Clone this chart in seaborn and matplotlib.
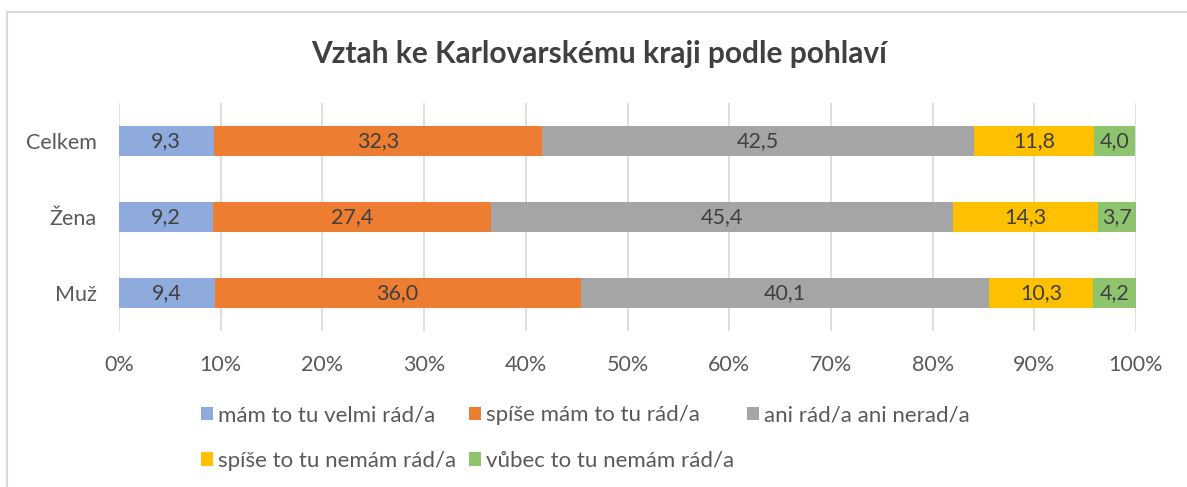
import matplotlib
matplotlib.use("Agg")
import matplotlib.pyplot as plt
from matplotlib.patches import Patch
from matplotlib.lines import Line2D
import numpy as np
import pandas as pd
import seaborn as sns

# data
groups = ["Celkem", "Žena", "Muž"]
answers = ["mám to tu velmi rád/a", "spíše mám to tu rád/a", "ani rád/a ani nerad/a",
           "spíše to tu nemám rád/a", "vůbec to tu nemám rád/a"]
velmi_rad = [9.3, 9.2, 9.4]
spise_rad = [32.3, 27.4, 36.0]
ani_ani = [42.5, 45.4, 40.1]
spise_nerad = [11.8, 14.3, 10.3]
vubec_nerad = [4.0, 3.7, 4.2]
colors = ["#8FAADC", "#ED7D31", "#A5A5A5", "#FFC000", "#8FC46E"]

sns.set_theme(style="white")
plt.rcParams["font.family"] = ["Lato", "DejaVu Sans"]

values = np.array([velmi_rad, spise_rad, ani_ani, spise_nerad, vubec_nerad])
cum = values.cumsum(axis=0)

fig = plt.figure(figsize=(11.87, 4.87), dpi=100)
ax = fig.add_axes([119 / 1187, 156 / 487, 1017 / 1187, 228 / 487])

# stacked bars: draw cumulative totals from the longest down
for i in range(len(answers) - 1, -1, -1):
    df = pd.DataFrame({"group": groups, "val": cum[i]})
    sns.barplot(data=df, x="val", y="group", orient="h", color=colors[i],
                width=0.4, ax=ax, saturation=1, zorder=3, linewidth=0)

# value labels in the middle of each segment
for i in range(len(answers)):
    for j, g in enumerate(groups):
        ax.text(cum[i][j] - values[i][j] / 2, j, f"{values[i][j]:.1f}".replace(".", ","),
                ha="center", va="center", fontsize=15.5, color="#404040", zorder=4)

ax.set_xlim(0, 100)
ax.set_ylim(2.5, -0.5)
ax.set_xticks(np.arange(0, 101, 10))
ax.set_xticklabels([f"{t}%" for t in range(0, 101, 10)])
ax.xaxis.grid(True, color="#D9D9D9", linewidth=1.2, zorder=0)
ax.set_axisbelow(True)
ax.set_xlabel("")
ax.set_ylabel("")
ax.tick_params(axis="both", length=0, labelsize=15.5, labelcolor="#595959")
ax.tick_params(axis="x", pad=17)
ax.tick_params(axis="y", pad=16)
for s in ax.spines.values():
    s.set_visible(False)

fig.text(0.505, 0.89, "Vztah ke Karlovarskému kraji podle pohlaví", ha="center", va="center",
         fontsize=21.5, fontweight="bold", color="#404040")

# legend: 3 items on the first row, 2 on the second (matplotlib fills by column)
handles = [Patch(facecolor=c, edgecolor="none") for c in colors]
order = [0, 3, 1, 4, 2]
fig.legend([handles[k] for k in order], [answers[k] for k in order], ncol=3,
           loc="center left", bbox_to_anchor=(181 / 1187, 1 - 438 / 487), frameon=False,
           fontsize=16, labelcolor="#595959", handlelength=0.55, handleheight=0.55,
           handletextpad=0.2, columnspacing=0.6, labelspacing=1.15)

# chart border (top and left edge visible)
fig.add_artist(Line2D([7 / 1187, 1], [1 - 12 / 487, 1 - 12 / 487], color="#D9D9D9", lw=1.5))
fig.add_artist(Line2D([7 / 1187, 7 / 1187], [0, 1 - 12 / 487], color="#D9D9D9", lw=1.5))

fig.savefig("out.png", dpi=100)
